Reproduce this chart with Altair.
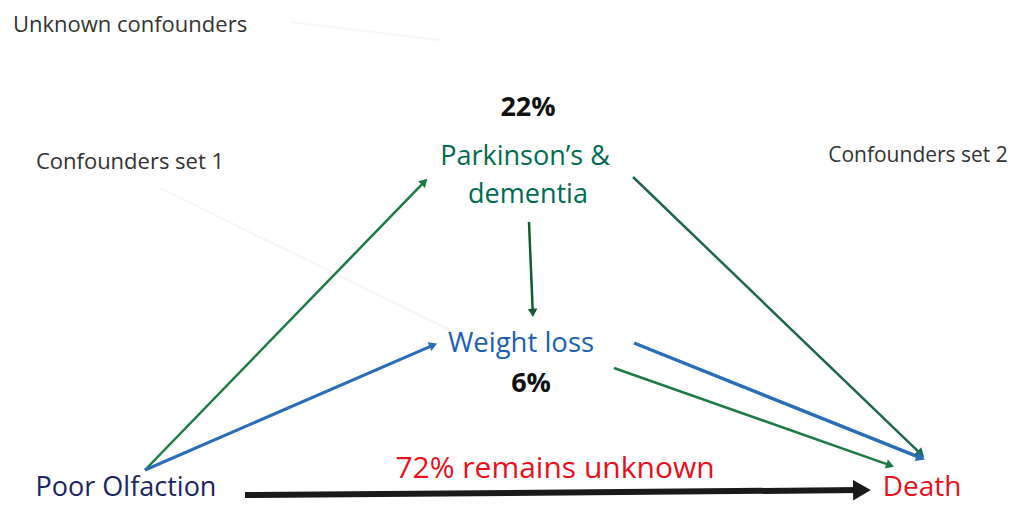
import altair as alt
import numpy as np
import pandas as pd

# ---- node labels (x = centre, y = baseline) ----
label_text = ["Unknown confounders", "Confounders set 1", "Confounders set 2",
              "Parkinson\u2019s &", "dementia", "Weight loss", "Poor Olfaction",
              "72% remains unknown", "Death"]
label_x = [130, 130, 918, 525, 528, 521, 126, 555, 922]
label_y = [32, 169, 162, 165, 203, 352, 496, 478, 496]
label_color = ["#333333", "#333333", "#333333", "#006B50", "#006B50", "#1A5FB4",
               "#1C2462", "#E8101A", "#E8101A"]
label_size = [22, 22, 21, 27, 27, 27.5, 27, 30, 28]

pct_text = ["22%", "6%"]
pct_x = [528, 531]
pct_y = [116, 392]

# ---- arrows (start -> end) ----
arr_x1 = [145, 145, 529, 633, 634, 614, 245]
arr_y1 = [470, 470, 222, 177, 343, 368, 495]
arr_x2 = [428, 438, 533, 925, 926, 895, 873]
arr_y2 = [178, 343, 318, 458, 460, 467, 490]
arr_color = ["#1E7A45", "#2A6DB8", "#145A32", "#1E6650", "#2A6DB8", "#1E7A45", "#1A1A1A"]
arr_width = [2.5, 3, 2.5, 2.5, 3.5, 2.5, 6]
arr_head = [90, 90, 90, 110, 110, 90, 420]

# faint background traces
faint_x1 = [160, 290]
faint_y1 = [188, 22]
faint_x2 = [450, 440]
faint_y2 = [330, 40]

W, H = 1010, 496
xs = alt.Scale(domain=[8, 8 + W], nice=False, zero=False)
ys = alt.Scale(domain=[8, 8 + H], nice=False, zero=False, reverse=True)

arr = pd.DataFrame({"x": arr_x1, "y": arr_y1, "x2": arr_x2, "y2": arr_y2,
                    "c": arr_color, "w": arr_width, "h": arr_head})
dx = arr["x2"] - arr["x"]
dy = arr["y2"] - arr["y"]
arr["ang"] = (np.degrees(np.arctan2(dx, -dy)) + 360) % 360
L = np.hypot(dx, dy)
back = np.sqrt(arr["h"]) * 0.6
arr["xe"] = arr["x2"] - dx / L * back
arr["ye"] = arr["y2"] - dy / L * back
arr["xh"] = arr["x2"] - dx / L * back * 0.9
arr["yh"] = arr["y2"] - dy / L * back * 0.9

faint = pd.DataFrame({"x": faint_x1, "y": faint_y1, "x2": faint_x2, "y2": faint_y2})

labels = pd.DataFrame({"t": label_text, "x": label_x, "y": label_y,
                       "c": label_color, "s": label_size})
pcts = pd.DataFrame({"t": pct_text, "x": pct_x, "y": pct_y})

faint_l = alt.Chart(faint).mark_rule(color="#f6f6f6", strokeWidth=2).encode(
    x=alt.X("x:Q", scale=xs, axis=None), y=alt.Y("y:Q", scale=ys, axis=None),
    x2="x2:Q", y2="y2:Q")

lines = alt.Chart(arr).mark_rule().encode(
    x=alt.X("x:Q", scale=xs, axis=None), y=alt.Y("y:Q", scale=ys, axis=None),
    x2="xe:Q", y2="ye:Q",
    color=alt.Color("c:N", scale=None),
    size=alt.Size("w:Q", scale=None))

heads = alt.Chart(arr).mark_point(shape="triangle-up", filled=True, opacity=1).encode(
    x=alt.X("xh:Q", scale=xs, axis=None), y=alt.Y("yh:Q", scale=ys, axis=None),
    angle=alt.Angle("ang:Q", scale=None),
    color=alt.Color("c:N", scale=None),
    size=alt.Size("h:Q", scale=None))

texts = alt.Chart(labels).mark_text(font="Open Sans", baseline="alphabetic", align="center").encode(
    x=alt.X("x:Q", scale=xs, axis=None), y=alt.Y("y:Q", scale=ys, axis=None),
    text="t:N", color=alt.Color("c:N", scale=None), size=alt.Size("s:Q", scale=None))

pct_t = alt.Chart(pcts).mark_text(font="Open Sans", fontWeight="bold", fontSize=27,
                                  color="#111111", baseline="alphabetic", align="center").encode(
    x=alt.X("x:Q", scale=xs, axis=None), y=alt.Y("y:Q", scale=ys, axis=None), text="t:N")

chart = alt.layer(faint_l, lines, heads, texts, pct_t).properties(
    width=W, height=H, padding=0, autosize=alt.AutoSizeParams(type="none")
).configure(background="white", view=alt.ViewConfig(stroke=None))

chart.save("out.html", embed_options={"renderer": "svg", "actions": False})
